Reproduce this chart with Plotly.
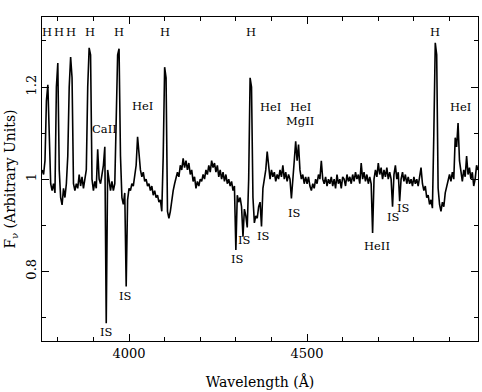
import plotly.graph_objects as go

# Wavelength grid (Angstrom), 4 A sampling
wl_start, wl_step, wl_end = 3756, 4, 4980
wavelength = list(range(wl_start, wl_end + 1, wl_step))

# Normalised flux, 10 samples (40 A) per row
flux = [
    1.02, 1.01, 1.04, 1.17, 1.205, 1.08, 0.99, 0.975, 0.99, 0.97,      # 3756
    1.2, 1.252, 1.02, 0.96, 0.944, 0.98, 0.96, 0.99, 1.05, 1.2,        # 3796
    1.265, 1.22, 0.99, 0.975, 0.99, 0.98, 1.01, 0.985, 1.005, 0.98,    # 3836
    1.0, 1.02, 1.2, 1.285, 1.27, 1.0, 0.975, 0.995, 0.98, 1.065,       # 3876
    1.0, 0.99, 1.01, 1.03, 1.07, 0.687, 1.02, 0.99, 0.975, 0.995,      # 3916
    0.975, 0.99, 1.15, 1.27, 1.283, 1.05, 0.96, 0.945, 0.97, 0.767,    # 3956
    0.955, 0.98, 0.975, 0.99, 0.985, 1.005, 1.03, 1.092, 1.05, 1.02,   # 3996
    1.005, 1.015, 0.995, 1.0, 0.985, 0.99, 0.975, 0.985, 0.965, 0.975, # 4036
    0.96, 0.965, 0.95, 0.955, 0.93, 1.05, 1.243, 1.22, 0.93, 0.915,    # 4076
    0.93, 0.955, 0.975, 0.99, 1.0, 1.015, 1.005, 1.03, 1.02, 1.045,    # 4116
    1.025, 1.04, 1.02, 1.035, 1.01, 1.02, 0.995, 1.005, 0.98, 0.995,   # 4156
    0.985, 1.0, 0.995, 1.01, 1.0, 1.02, 1.01, 1.03, 1.015, 1.04,       # 4196
    1.025, 1.035, 1.015, 1.03, 1.005, 1.02, 1.0, 1.015, 0.995, 1.01,   # 4236
    0.99, 1.0, 0.985, 0.995, 0.975, 0.985, 0.846, 0.965, 0.95, 0.96,   # 4276
    0.94, 0.875, 0.935, 0.92, 0.895, 1.0, 1.22, 1.2, 0.96, 0.905,      # 4316
    0.92, 0.915, 0.94, 0.95, 0.897, 0.98, 1.0, 1.02, 1.06, 1.03,       # 4356
    1.0, 1.02, 1.005, 1.015, 0.995, 1.01, 1.0, 1.02, 1.005, 1.03,      # 4396
    1.0, 1.015, 0.995, 1.01, 1.0, 0.958, 1.01, 1.04, 1.082, 1.04,      # 4436
    1.075, 1.02, 1.0, 1.01, 0.99, 1.005, 0.99, 1.005, 0.985, 0.975,    # 4476
    0.99, 0.98, 1.0, 0.99, 1.01, 1.0, 1.04, 1.0, 0.99, 1.005,          # 4516
    0.985, 1.0, 0.99, 1.005, 0.985, 1.0, 0.98, 1.01, 0.99, 1.0,        # 4556
    0.98, 1.005, 1.0, 0.985, 1.01, 0.995, 1.005, 0.99, 1.01, 0.995,    # 4596
    1.015, 1.0, 1.01, 0.99, 1.035, 1.0, 1.015, 0.995, 1.01, 0.99,      # 4636
    1.005, 0.99, 0.883, 1.0, 1.02, 1.005, 1.035, 1.01, 1.025, 1.0,     # 4676
    1.02, 1.005, 1.025, 1.0, 1.015, 1.0, 0.94, 1.01, 1.03, 1.0,        # 4716
    1.015, 0.952, 1.0, 1.015, 0.995, 1.01, 0.99, 1.005, 0.99, 1.0,     # 4756
    0.985, 1.005, 0.99, 1.0, 0.985, 1.01, 1.025, 0.99, 0.975, 0.985,   # 4796
    0.96, 0.965, 0.945, 0.955, 0.937, 1.1, 1.296, 1.27, 0.98, 0.945,   # 4836
    0.93, 0.95, 0.94, 0.97, 0.985, 1.0, 1.01, 0.995, 1.015, 1.0,       # 4876
    1.09, 1.07, 1.122, 1.04, 1.01, 0.995, 1.02, 1.005, 1.05, 1.01,     # 4916
    1.025, 1.0, 1.015, 0.985, 1.0, 1.03, 1.02,                         # 4956
]
assert len(flux) == len(wavelength)

# Line identifications (text, wavelength, flux position)
label_text = ["H", "H", "H", "H", "H", "H", "H", "H",
              "CaII", "HeI", "HeI", "HeI", "MgII", "HeI",
              "IS", "IS", "IS", "IS", "IS", "IS", "IS", "IS", "HeII"]
label_wl = [3771, 3802, 3836, 3890, 3972, 4102, 4342, 4860,
            3930, 4038, 4397, 4481, 4481, 4932,
            3937, 3990, 4306, 4325, 4379, 4463.5, 4741.6, 4769.7, 4695]
label_flux = [1.319, 1.319, 1.319, 1.319, 1.319, 1.319, 1.319, 1.319,
              1.109, 1.159, 1.157, 1.157, 1.127, 1.157,
              0.667, 0.746, 0.827, 0.867, 0.877, 0.927, 0.917, 0.937, 0.855]

x_range = [3755.6, 4980]
y_range = [0.6485, 1.352]
x_ticks = [4000, 4500]
y_ticks = [0.8, 1.0, 1.2]
y_ticktext = ["0.8", "1", "1.2"]

FONT = "DejaVu Serif"

fig = go.Figure()
fig.add_trace(go.Scatter(x=wavelength, y=flux, mode="lines",
                         line=dict(color="black", width=1.6),
                         showlegend=False, hoverinfo="skip"))

for t, xw, yf in zip(label_text, label_wl, label_flux):
    fig.add_annotation(x=xw, y=yf, xref="x", yref="y", text=t, showarrow=False,
                       font=dict(family=FONT, size=11.5, color="black"))

axis_common = dict(showline=True, linecolor="black", linewidth=1, mirror="allticks",
                   ticks="inside", ticklen=7, tickwidth=1, tickcolor="black",
                   showgrid=False, zeroline=False,
                   tickfont=dict(family=FONT, size=13, color="black"))

fig.update_xaxes(range=x_range, tickvals=x_ticks, ticktext=[str(v) for v in x_ticks],
                 minor=dict(ticks="inside", ticklen=4, dtick=100, tick0=3700,
                            tickcolor="black", showgrid=False),
                 title=dict(text="Wavelength (Å)", font=dict(family=FONT, size=14, color="black"),
                            standoff=17),
                 **axis_common)
fig.update_yaxes(range=y_range, tickvals=y_ticks, ticktext=y_ticktext, tickangle=-90,
                 minor=dict(ticks="inside", ticklen=4, dtick=0.1, tick0=0.7,
                            tickcolor="black", showgrid=False),
                 title=dict(text="F<sub>ν</sub> (Arbitrary Units)",
                            font=dict(family=FONT, size=14, color="black"), standoff=4),
                 **axis_common)

fig.update_layout(width=482, height=392, margin=dict(l=42, r=4, t=17, b=51),
                  paper_bgcolor="white", plot_bgcolor="white")

fig.write_html("out.html")
